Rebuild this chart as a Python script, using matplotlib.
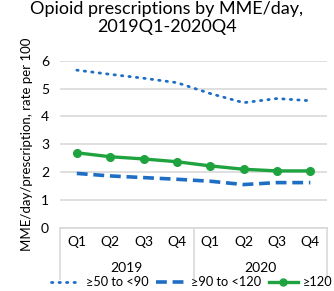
import matplotlib
matplotlib.use("Agg")
import matplotlib.pyplot as plt
from matplotlib.lines import Line2D

plt.rcParams['font.family'] = ['Lato', 'DejaVu Sans']

quarters = ["Q1", "Q2", "Q3", "Q4", "Q1", "Q2", "Q3", "Q4"]
years = ["2019", "2020"]
s50_90 = [5.66, 5.51, 5.37, 5.21, 4.82, 4.49, 4.64, 4.56]
s90_120 = [1.95, 1.86, 1.80, 1.74, 1.67, 1.55, 1.62, 1.62]
s120 = [2.69, 2.55, 2.47, 2.37, 2.22, 2.10, 2.04, 2.04]
labels = ["≥50 to <90", "≥90 to <120", "≥120"]

blue = "#1f6ec6"
green = "#1ea33f"
dot_style = (0, (0.5, 2.2))
dash_style = (0, (3, 1.6))

fig = plt.figure(figsize=(3.34, 2.91), dpi=100)
ax = fig.add_axes([0.18, 0.2175, 0.799, 0.574])
x = list(range(len(quarters)))

ax.plot(x, s50_90, color=blue, lw=2.0, linestyle=dot_style, dash_capstyle='round')
ax.plot(x, s90_120, color=blue, lw=2.6, linestyle=dash_style)
ax.plot(x, s120, color=green, lw=2.4, marker='o', markersize=5.5)

ax.set_xlim(-0.5, 7.5)
ax.set_ylim(0, 6)
ax.set_yticks(range(0, 7))
ax.tick_params(axis='y', length=0, labelsize=10, pad=8)
ax.grid(axis='y', color='#d9d9d9', lw=1.2)
ax.set_axisbelow(True)
for s in ['top', 'right', 'left']:
    ax.spines[s].set_visible(False)
ax.spines['bottom'].set_color('#d9d9d9')
ax.spines['bottom'].set_linewidth(1.2)

ax.set_xticks(x)
ax.set_xticklabels(quarters, fontsize=10)
ax.tick_params(axis='x', length=0, pad=6)

tr = ax.get_xaxis_transform()
for xs in [-0.5, 3.5, 7.5]:
    ax.plot([xs, xs], [0, -0.31], color='#d9d9d9', lw=1.2, transform=tr, clip_on=False)
for i, yr in enumerate(years):
    ax.text(1.5 + 4 * i, -0.24, yr, transform=tr, ha='center', va='center', fontsize=10)

ax.set_ylabel("MME/day/prescription, rate per 100", fontsize=9.5, labelpad=6)
fig.suptitle("Opioid prescriptions by MME/day,\n2019Q1-2020Q4", fontsize=13, y=0.995, linespacing=1.15)

handles = [
    Line2D([], [], color=blue, lw=2.0, linestyle=dot_style, dash_capstyle='round'),
    Line2D([], [], color=blue, lw=2.6, linestyle=dash_style),
    Line2D([], [], color=green, lw=2.4, marker='o', markersize=5, markevery=[1]),
]
fig.legend(handles, labels, loc='lower center', bbox_to_anchor=(0.575, -0.03), ncol=3,
           frameon=False, fontsize=9.2, handlelength=2.3, columnspacing=0.6, handletextpad=0.4)

fig.savefig("out.png", dpi=100)
